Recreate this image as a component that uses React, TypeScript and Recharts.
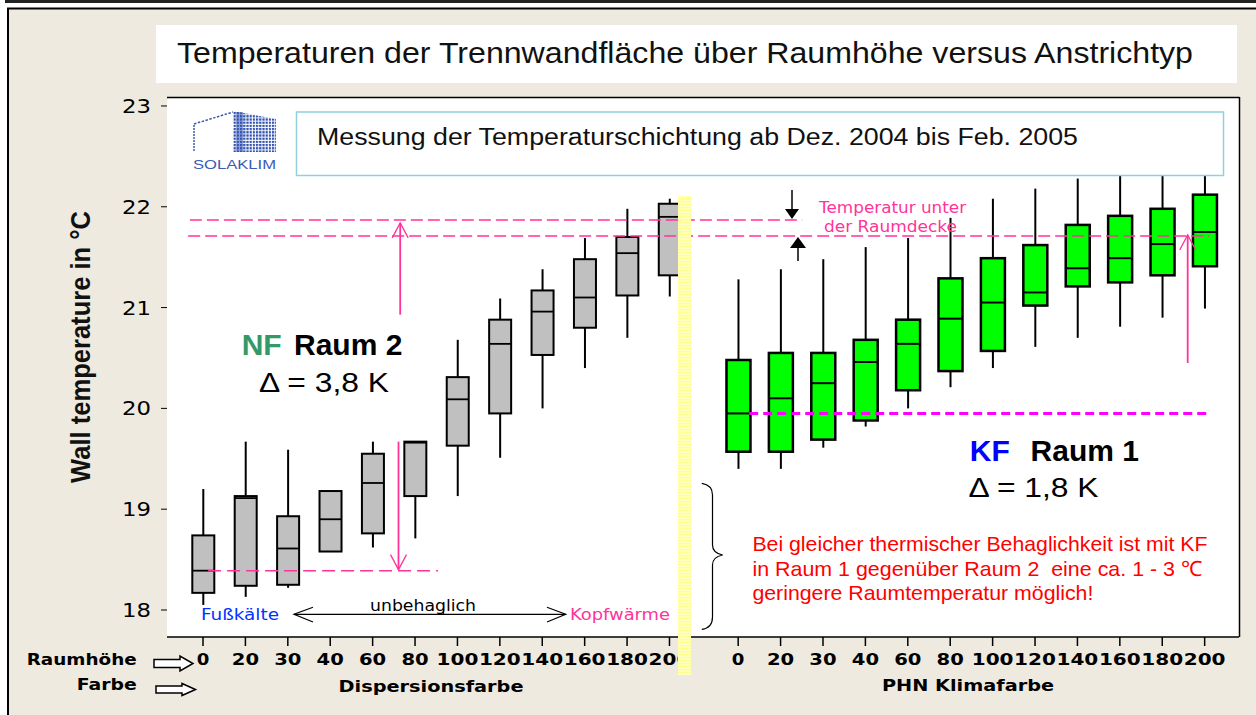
import React from 'react';
import { ComposedChart, Bar, XAxis, YAxis, ReferenceLine } from 'recharts';

// ---------------- data ----------------
const raumhoehe = ['0', '20', '30', '40', '60', '80', '100', '120', '140', '160', '180', '200'];

// Dispersionsfarbe (Raum 2, NF)
const dispLow = [18.05, 18.13, 18.22, 18.58, 18.62, 18.71, 19.13, 19.51, 20.0, 20.4, 20.7, 21.11];
const dispQ1 = [18.17, 18.24, 18.25, 18.58, 18.76, 19.13, 19.63, 19.95, 20.53, 20.8, 21.12, 21.32];
const dispMedian = [18.39, 19.11, 18.61, 18.9, 19.26, 19.66, 20.09, 20.64, 20.96, 21.1, 21.54, 21.9];
const dispQ3 = [18.74, 19.13, 18.93, 19.18, 19.55, 19.67, 20.31, 20.88, 21.17, 21.48, 21.7, 22.03];
const dispHigh = [19.2, 19.67, 19.59, 19.18, 19.67, 19.67, 20.68, 21.09, 21.38, 21.69, 21.98, 22.08];

// PHN Klimafarbe (Raum 1, KF)
const klimaLow = [19.4, 19.4, 19.61, 19.82, 20.0, 20.21, 20.4, 20.61, 20.7, 20.81, 20.9, 20.99];
const klimaQ1 = [19.57, 19.57, 19.69, 19.88, 20.18, 20.37, 20.57, 21.02, 21.21, 21.25, 21.32, 21.41];
const klimaMedian = [19.95, 20.1, 20.25, 20.46, 20.64, 20.89, 21.05, 21.15, 21.39, 21.49, 21.63, 21.75];
const klimaQ3 = [20.48, 20.55, 20.55, 20.68, 20.88, 21.29, 21.49, 21.62, 21.82, 21.91, 21.98, 22.12];
const klimaHigh = [21.28, 21.38, 21.48, 21.6, 21.69, 21.89, 22.08, 22.18, 22.28, 22.31, 22.31, 22.31];

const yTicks = [18, 19, 20, 21, 22, 23];

// reference levels (°C) and their extents on the category axis
const ceilingNF = 21.87;
const ceilingKF = 21.71;
const floorNF = 18.39;
const floorKF = 19.95;
const ceilingNFSpan = [-0.31, 14.13];
const ceilingKFSpan = [-0.35, 23.73];
const floorNFSpan = [0.12, 5.54];
const floorKFSpan = [12.88, 23.77];
const nfUpArrow = { x: 4.65, from: 20.93, to: 21.84 };
const nfDownArrow = { x: 4.61, from: 19.67, to: 18.4 };
const kfUpArrow = { x: 23.22, from: 20.45, to: 21.72 };

// ---------------- layout ----------------
const GROUP_OFFSET = 12.62; // second group starts after a gap
const X_DOMAIN: [number, number] = [-0.849, 24.43];
const Y_DOMAIN: [number, number] = [17.732, 23.089];
const PINK = '#FF3399';

type Row = { pos: number; label: string; group: string; lo: number; q1: number; med: number; q3: number; hi: number };

const boxData: Row[] = [
  ...raumhoehe.map((h, i) => ({ pos: i, label: h, group: 'disp', lo: dispLow[i], q1: dispQ1[i], med: dispMedian[i], q3: dispQ3[i], hi: dispHigh[i] })),
  ...raumhoehe.map((h, i) => ({ pos: i + GROUP_OFFSET, label: h, group: 'klima', lo: klimaLow[i], q1: klimaQ1[i], med: klimaMedian[i], q3: klimaQ3[i], hi: klimaHigh[i] })),
];
const tickPositions = boxData.map((d) => d.pos);
const labelAt = (v: number) => {
  const r = boxData.find((d) => Math.abs(d.pos - v) < 1e-6);
  return r ? r.label : '';
};

const BoxShape = (props: any) => {
  const { x, y, width, height, payload } = props;
  if (!payload || height == null || isNaN(y)) return null;
  const { lo, q1, med, q3, hi, group } = payload as Row;
  const span = hi - lo;
  const py = (v: number) => y + (span === 0 ? 0 : (height * (hi - v)) / span);
  const cx = x + width / 2;
  const isK = group === 'klima';
  const w = isK ? 24 : 22;
  const bx = cx - w / 2;
  return (
    <g>
      <line x1={cx} x2={cx} y1={py(hi)} y2={py(q3)} stroke="#000" strokeWidth={2} />
      <line x1={cx} x2={cx} y1={py(q1)} y2={py(lo)} stroke="#000" strokeWidth={2} />
      <rect x={bx} y={py(q3)} width={w} height={py(q1) - py(q3)} fill={isK ? '#00FF00' : '#C0C0C0'} stroke="#000" strokeWidth={isK ? 2.5 : 2} />
      <line x1={bx} x2={bx + w} y1={py(med)} y2={py(med)} stroke="#000" strokeWidth={isK ? 2 : 1.8} />
    </g>
  );
};

const arrowShape = (color: string) => (p: any) => {
  const { x1, y1, x2, y2 } = p;
  const dir = y2 < y1 ? 1 : -1; // 1 = pointing up
  const hy = y2 + dir * 15;
  return (
    <g>
      <line x1={x1} y1={y1} x2={x2} y2={y2} stroke={color} strokeWidth={1.8} />
      <polyline points={`${x2 - 8},${hy} ${x2},${y2} ${x2 + 8},${hy}`} fill="none" stroke={color} strokeWidth={1.3} />
    </g>
  );
};

const XTick = (props: any) => {
  const { x, y, payload } = props;
  const label = labelAt(payload.value);
  return (
    <text x={x} y={y} dy={15} textAnchor="middle" fontFamily="DejaVu Sans" fontWeight="bold" fontSize={16}
      textLength={label.length * 14.6 - 2} lengthAdjust="spacingAndGlyphs" fill="#000">
      {label}
    </text>
  );
};

const YTick = (props: any) => {
  const { x, y, payload } = props;
  const label = String(payload.value);
  return (
    <text x={x} y={y} dy={7} textAnchor="end" fontFamily="DejaVu Sans" fontSize={19} textLength={29} lengthAdjust="spacingAndGlyphs" fill="#000">
      {label}
    </text>
  );
};

const Overlay = () => (
  <svg width={1256} height={715} style={{ position: 'absolute', left: 0, top: 0, pointerEvents: 'none' }}>
    <defs>
      <pattern id="yellowStripes" width="4" height="3" patternUnits="userSpaceOnUse">
        <rect width="4" height="3" fill="#FFFFC8" />
        <rect width="4" height="1.5" fill="#FFFF90" />
      </pattern>
      <pattern id="logoDots" width="3.2" height="3.2" patternUnits="userSpaceOnUse">
        <rect width="2.2" height="2.2" fill="#2F50AE" />
      </pattern>
    </defs>

    {/* outer frame */}
    <line x1={5} y1={1.5} x2={1256} y2={1.5} stroke="#222" strokeWidth={3} />
    <line x1={8} y1={8} x2={8} y2={715} stroke="#000" strokeWidth={2} />
    <line x1={7} y1={8.5} x2={1256} y2={8.5} stroke="#000" strokeWidth={2} />

    {/* title box */}
    <rect x={156} y={25} width={1081} height={58} fill="#fff" />
    <text x={177} y={63} fontFamily="Liberation Sans, Arial, sans-serif" fontSize={29} fill="#111" textLength={1016} lengthAdjust="spacingAndGlyphs">
      Temperaturen der Trennwandfläche über Raumhöhe versus Anstrichtyp
    </text>

    {/* plot frame top/right */}
    <line x1={167} y1={97.5} x2={1239.5} y2={97.5} stroke="#000" strokeWidth={1.5} />
    <line x1={1239.5} y1={97} x2={1239.5} y2={637} stroke="#000" strokeWidth={1.5} />

    {/* subtitle box */}
    <rect x={296.5} y={112} width={927} height={63.5} fill="#fff" stroke="#8FCFE0" strokeWidth={1.5} />
    <text x={317} y={145} fontFamily="Liberation Sans, Arial, sans-serif" fontSize={23} fill="#111" textLength={761} lengthAdjust="spacingAndGlyphs">
      Messung der Temperaturschichtung ab Dez. 2004 bis Feb. 2005
    </text>

    {/* logo */}
    <line x1={194} y1={125} x2={194} y2={152} stroke="#3A5BB5" strokeWidth={1.5} strokeDasharray="2 1" />
    <line x1={194} y1={124} x2={233} y2={112} stroke="#3A5BB5" strokeWidth={1.5} strokeDasharray="2.5 1.5" />
    <polygon points="233,111 276,119 276,152 233,152" fill="url(#logoDots)" />
    <rect x={236} y={112} width={7} height={40} fill="#2F50AE" opacity={0.5} />
    <text x={193} y={168.5} fontFamily="Liberation Sans, Arial, sans-serif" fontSize={12} fill="#3A5BB5" textLength={83} lengthAdjust="spacingAndGlyphs">SOLAKLIM</text>

    {/* yellow separator */}
    <rect x={678} y={196} width={13} height={479} fill="url(#yellowStripes)" />

    {/* NF annotation */}
    <text x={241.7} y={355} fontFamily="Liberation Sans, Arial, sans-serif" fontWeight="bold" fontSize={30} fill="#339966">NF</text>
    <text x={294} y={355} fontFamily="Liberation Sans, Arial, sans-serif" fontWeight="bold" fontSize={30} fill="#000">Raum 2</text>
    <text x={259} y={391.5} fontFamily="Liberation Sans, Arial, sans-serif" fontSize={27} fill="#000" textLength={130} lengthAdjust="spacingAndGlyphs">Δ = 3,8 K</text>

    {/* KF annotation */}
    <text x={969.8} y={460.7} fontFamily="Liberation Sans, Arial, sans-serif" fontWeight="bold" fontSize={30} fill="#0000FF">KF</text>
    <text x={1030.6} y={460.7} fontFamily="Liberation Sans, Arial, sans-serif" fontWeight="bold" fontSize={30} fill="#000">Raum 1</text>
    <text x={968.6} y={497.3} fontFamily="Liberation Sans, Arial, sans-serif" fontSize={27} fill="#000" textLength={130} lengthAdjust="spacingAndGlyphs">Δ = 1,8 K</text>

    {/* red conclusion */}
    <g fontFamily="Liberation Sans, Arial, sans-serif" fontSize={21} fill="#FF0000">
      <text x={752.4} y={550.7} textLength={455} lengthAdjust="spacingAndGlyphs">Bei gleicher thermischer Behaglichkeit ist mit KF</text>
      <text x={752.4} y={575.7} textLength={450} lengthAdjust="spacingAndGlyphs" xmlSpace="preserve">in Raum 1 gegenüber Raum 2  eine ca. 1 - 3 ℃</text>
      <text x={752.4} y={600.3} textLength={341} lengthAdjust="spacingAndGlyphs">geringere Raumtemperatur möglich!</text>
    </g>

    {/* brace */}
    <path d="M701.8,483.3 Q712.5,485 712.5,495 L712.5,545 Q712.5,553 722.7,555 Q712.5,557 712.5,565 L712.5,617 Q712.5,628 701.8,629.3" fill="none" stroke="#000" strokeWidth={1.2} />

    {/* ceiling temperature note */}
    <g fontFamily="DejaVu Sans, sans-serif" fontSize={16} fill={PINK} textAnchor="middle">
      <text x={892.6} y={213.3} textLength={147} lengthAdjust="spacingAndGlyphs">Temperatur unter</text>
      <text x={890.5} y={231.7} textLength={133} lengthAdjust="spacingAndGlyphs">der Raumdecke</text>
    </g>
    <line x1={792} y1={190} x2={792} y2={211} stroke="#000" strokeWidth={1.5} />
    <polygon points="785,209 799,209 792,219" fill="#000" />
    <polygon points="790,248 806,248 798,237" fill="#000" />
    <line x1={798} y1={248} x2={798} y2={261} stroke="#000" strokeWidth={1.5} />

    {/* comfort scale */}
    <g fontFamily="DejaVu Sans, sans-serif" fontSize={16}>
      <text x={201} y={620} fill="#0033FF" textLength={78} lengthAdjust="spacingAndGlyphs">Fußkälte</text>
      <text x={370} y={610.7} fill="#000" textLength={106} lengthAdjust="spacingAndGlyphs">unbehaglich</text>
      <text x={570} y={620} fill={PINK} textLength={100} lengthAdjust="spacingAndGlyphs">Kopfwärme</text>
    </g>
    <line x1={294} y1={614.3} x2={565.7} y2={614.3} stroke="#000" strokeWidth={1.2} />
    <polyline points="313,607.3 294,614.3 313,622" fill="none" stroke="#000" strokeWidth={1.2} />
    <polyline points="547,607.3 565.7,614.3 547,622" fill="none" stroke="#000" strokeWidth={1.2} />
    <line x1={443.6} y1={606.7} x2={443.6} y2={614} stroke="#000" strokeWidth={1} />

    {/* bottom row labels */}
    <g fontFamily="DejaVu Sans, sans-serif" fontWeight="bold" fontSize={16} fill="#000">
      <text x={26.7} y={665} textLength={110} lengthAdjust="spacingAndGlyphs">Raumhöhe</text>
      <text x={76.7} y={690} textLength={60} lengthAdjust="spacingAndGlyphs">Farbe</text>
      <text x={431} y={692} textAnchor="middle" textLength={185} lengthAdjust="spacingAndGlyphs">Dispersionsfarbe</text>
      <text x={968} y={691} textAnchor="middle" textLength={172} lengthAdjust="spacingAndGlyphs">PHN Klimafarbe</text>
    </g>
    <path d="M154,659.5 L180,659.5 L180,656 L193,663.5 L180,671 L180,667.5 L154,667.5 Z" fill="#fff" stroke="#000" strokeWidth={1.5} />
    <path d="M156,686 L182,686 L182,683.5 L195.5,689.5 L182,695.5 L182,693 L156,693 Z" fill="#fff" stroke="#000" strokeWidth={1.5} />

    {/* y axis title */}
    <text x={90} y={347} transform="rotate(-90 90 347)" textAnchor="middle" fontFamily="Liberation Sans, Arial, sans-serif" fontWeight="bold" fontSize={28} fill="#111" textLength={272} lengthAdjust="spacingAndGlyphs">
      Wall temperature in °C
    </text>
  </svg>
);

export default function App() {
  return (
    <div style={{ position: 'absolute', left: 0, top: 0, width: 1256, height: 715, background: '#fff', overflow: 'hidden' }}>
      <div style={{ position: 'absolute', left: 8, top: 8, width: 1248, height: 707, background: '#EEEAE0' }} />
      <div style={{ position: 'absolute', left: 167, top: 97, width: 1072, height: 540, background: '#fff' }} />
      <div style={{ position: 'absolute', left: 0, top: 0 }}>
        <ComposedChart width={1256} height={715} data={boxData} margin={{ top: 97, right: 17, bottom: 48, left: 107 }}>
          <XAxis
            dataKey="pos"
            type="number"
            domain={X_DOMAIN}
            allowDataOverflow
            ticks={tickPositions}
            interval={0}
            tick={<XTick />}
            tickSize={9}
            tickMargin={4}
            height={30}
            axisLine={{ stroke: '#000', strokeWidth: 1.5 }}
            tickLine={{ stroke: '#000', strokeWidth: 1.5 }}
          />
          <YAxis
            type="number"
            domain={Y_DOMAIN}
            allowDataOverflow
            ticks={yTicks}
            interval={0}
            tick={<YTick />}
            tickSize={6}
            tickMargin={10}
            width={60}
            axisLine={false}
            tickLine={{ stroke: '#000', strokeWidth: 1 }}
          />
          <Bar dataKey={(d: Row) => [d.lo, d.hi]} shape={BoxShape} barSize={23} isAnimationActive={false} />
          <ReferenceLine segment={[{ x: ceilingNFSpan[0], y: ceilingNF }, { x: ceilingNFSpan[1], y: ceilingNF }]} stroke={PINK} strokeWidth={1.5} strokeDasharray="12 5" />
          <ReferenceLine segment={[{ x: ceilingKFSpan[0], y: ceilingKF }, { x: ceilingKFSpan[1], y: ceilingKF }]} stroke={PINK} strokeWidth={1.5} strokeDasharray="12 5" />
          <ReferenceLine segment={[{ x: floorNFSpan[0], y: floorNF }, { x: floorNFSpan[1], y: floorNF }]} stroke={PINK} strokeWidth={1.5} strokeDasharray="13 6" />
          <ReferenceLine segment={[{ x: floorKFSpan[0], y: floorKF }, { x: floorKFSpan[1], y: floorKF }]} stroke="#FF00FF" strokeWidth={3} strokeDasharray="9 5" />
          <ReferenceLine segment={[{ x: nfUpArrow.x, y: nfUpArrow.from }, { x: nfUpArrow.x, y: nfUpArrow.to }]} stroke={PINK} shape={arrowShape(PINK)} />
          <ReferenceLine segment={[{ x: nfDownArrow.x, y: nfDownArrow.from }, { x: nfDownArrow.x, y: nfDownArrow.to }]} stroke={PINK} shape={arrowShape(PINK)} />
          <ReferenceLine segment={[{ x: kfUpArrow.x, y: kfUpArrow.from }, { x: kfUpArrow.x, y: kfUpArrow.to }]} stroke={PINK} shape={arrowShape(PINK)} />
        </ComposedChart>
      </div>
      <Overlay />
    </div>
  );
}
